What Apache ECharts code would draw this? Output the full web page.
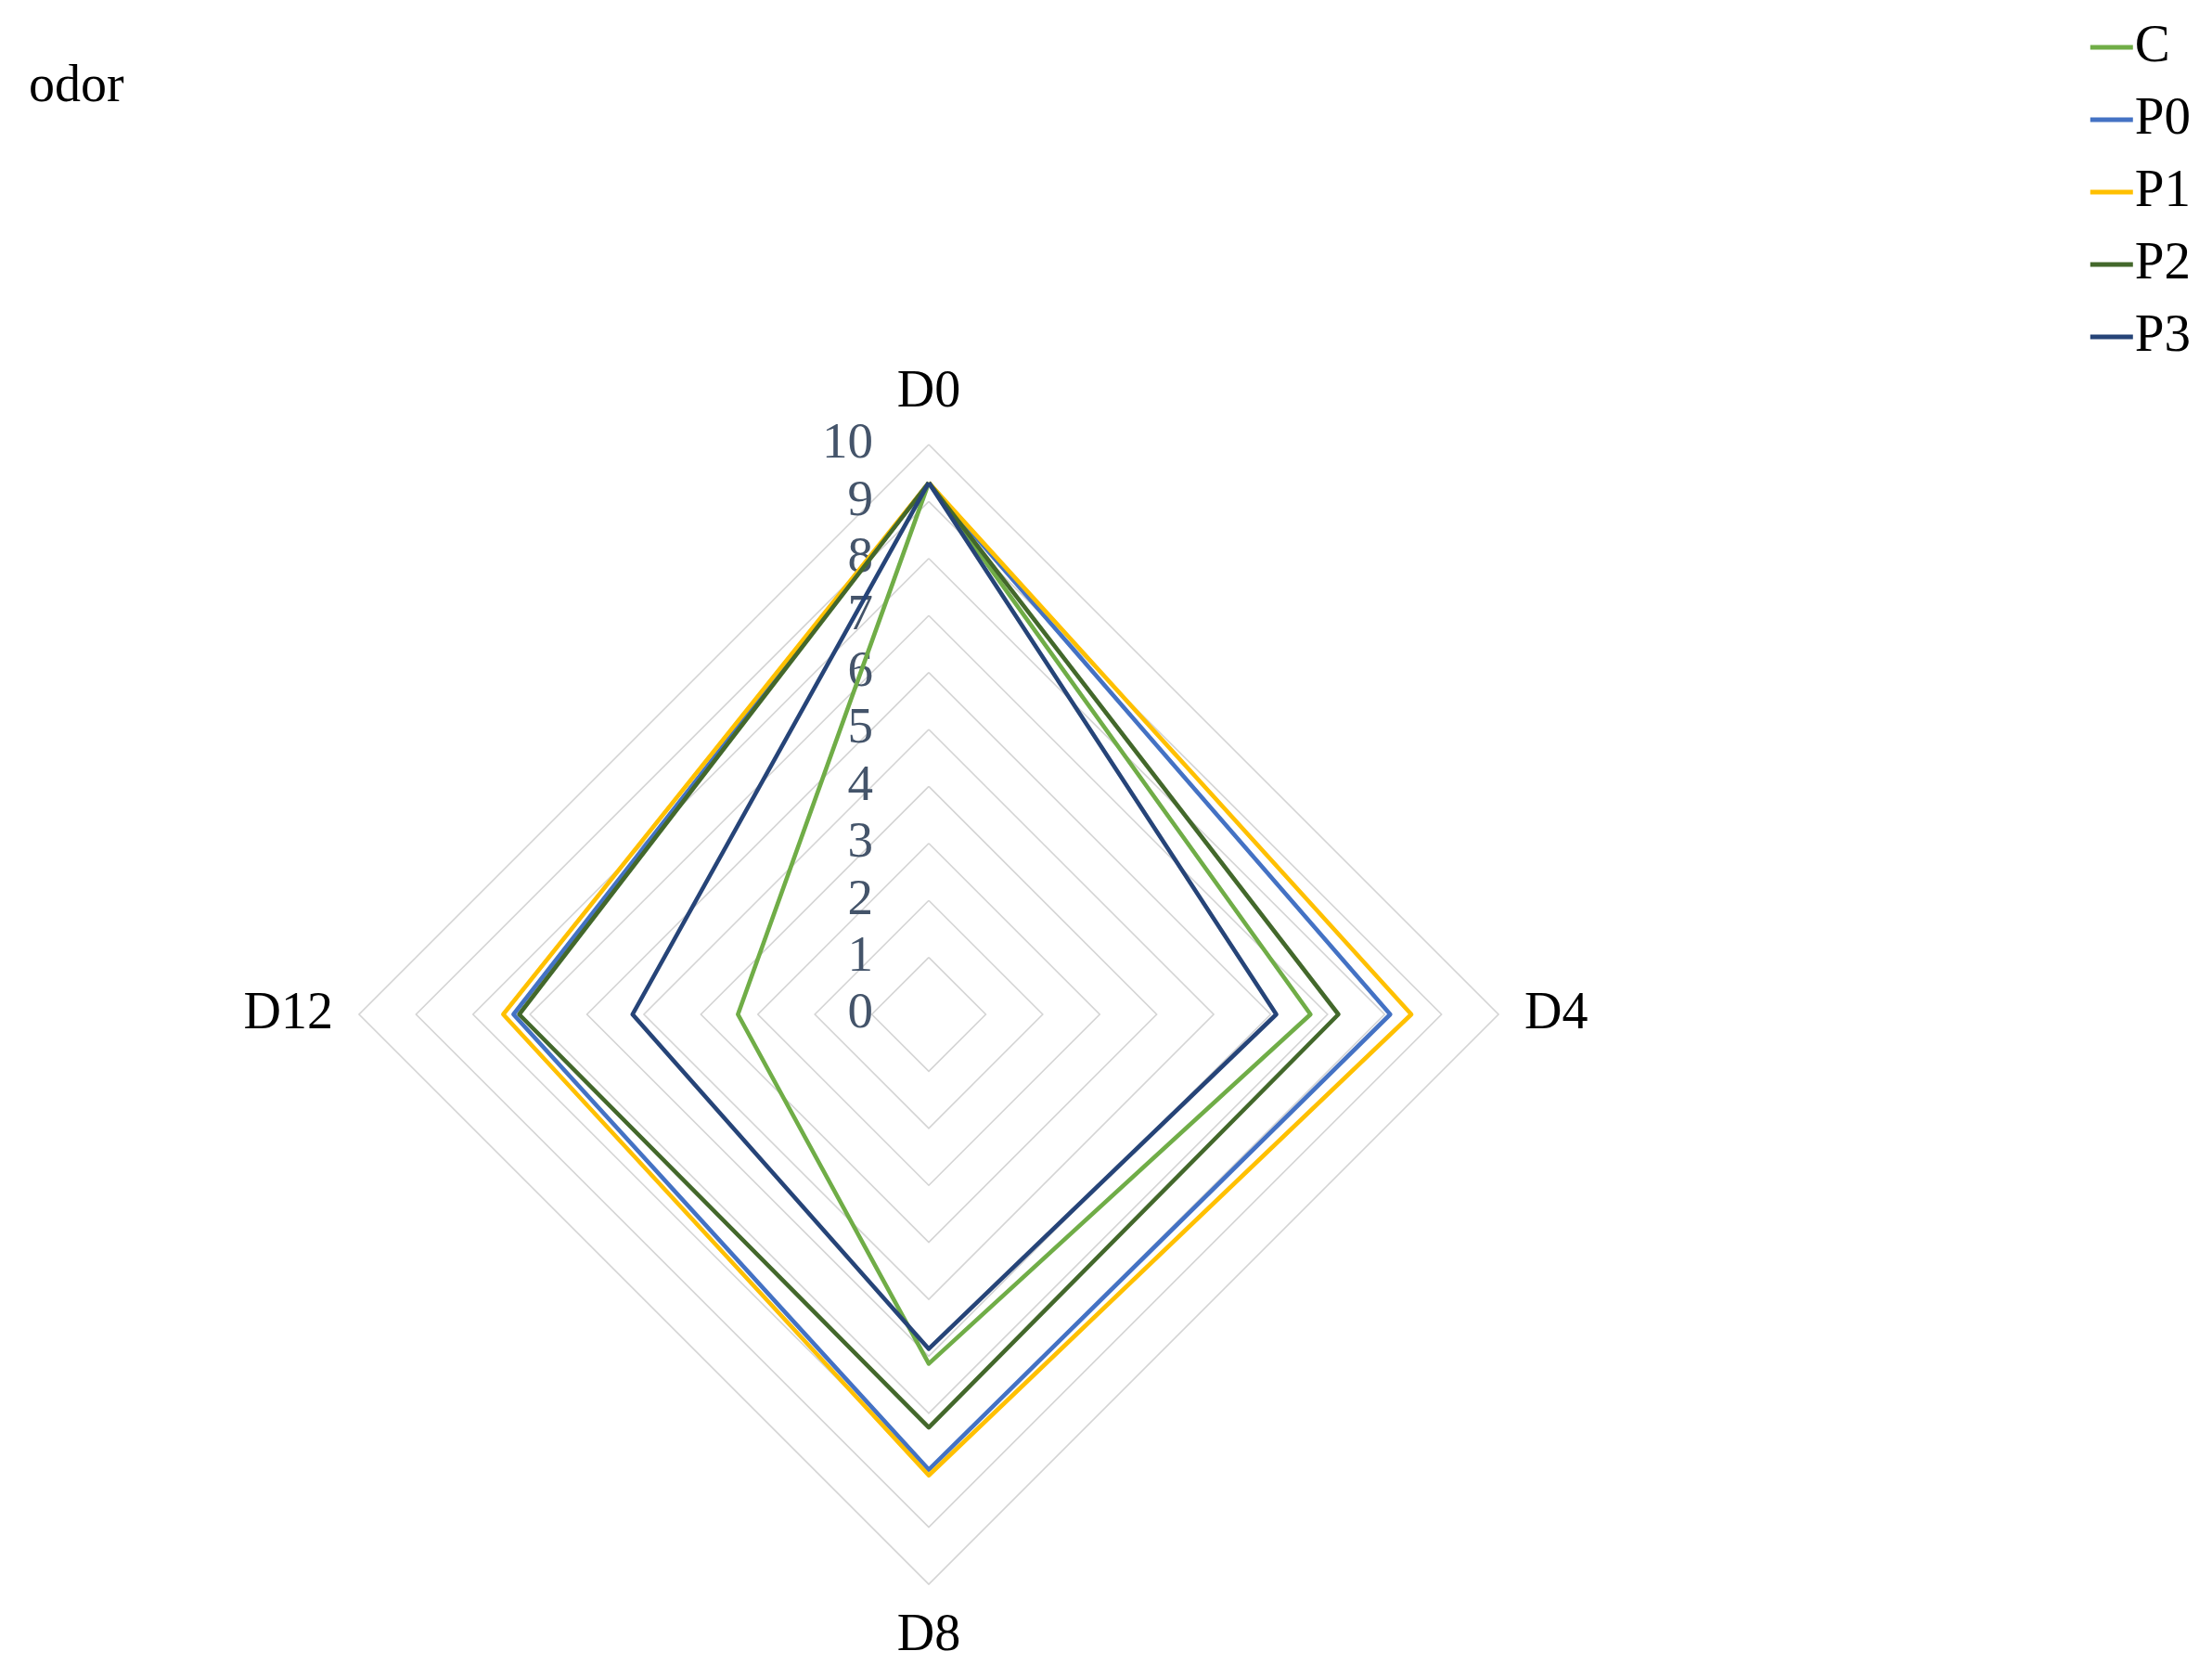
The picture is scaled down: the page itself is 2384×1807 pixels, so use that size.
<!DOCTYPE html>
<html><head><meta charset="utf-8">
<script src="https://cdn.jsdelivr.net/npm/echarts@6/dist/echarts.min.js"></script>
<style>html,body{margin:0;padding:0;background:#fff}#c{width:2384px;height:1807px}</style>
</head><body><div id="c"></div>
<script>
const titleText = 'odor';
const categories = ['D0', 'D4', 'D8', 'D12'];
const tickMax = 10;
const seriesNames = ['C', 'P0', 'P1', 'P2', 'P3'];
const C  = [9.33, 6.70, 6.13, 3.35];
const P0 = [9.33, 8.10, 7.99, 7.29];
const P1 = [9.33, 8.47, 8.09, 7.47];
const P2 = [9.33, 7.19, 7.25, 7.19];
const P3 = [9.33, 6.10, 5.87, 5.20];
const colors = ['#70AD47', '#4472C4', '#FFC000', '#43682B', '#264478'];

const seriesValues = [C, P0, P1, P2, P3];
// ECharts places radar indicators counter-clockwise; reorder so D0 top, D4 right, D8 bottom, D12 left
const order = [0, 3, 2, 1];
const font = '"Liberation Serif", "Times New Roman", serif';

const indicator = order.map((i, k) => ({
  name: categories[i], max: tickMax, min: 0,
  axisLabel: { show: k === 0 }
}));

const chart = echarts.init(document.getElementById('c'));
chart.setOption({
  animation: false,
  backgroundColor: '#fff',
  title: {
    text: titleText, left: 26, top: 61,
    textStyle: { fontFamily: font, fontSize: 56, fontWeight: 'normal', color: '#000' }
  },
  legend: {
    orient: 'vertical', right: 18, top: 14,
    icon: 'rect', itemWidth: 46, itemHeight: 5, itemGap: 14,
    data: seriesNames,
    textStyle: { fontFamily: font, fontSize: 57, color: '#000', lineHeight: 64, padding: [0, 0, 0, -3] }
  },
  radar: {
    center: [1001, 1093], radius: 614, startAngle: 90,
    shape: 'polygon', splitNumber: 10,
    indicator: indicator,
    axisName: { fontFamily: font, fontSize: 56, color: '#000' },
    nameGap: 28,
    axisLine: { show: false },
    axisTick: { show: false },
    splitArea: { show: false },
    splitLine: { lineStyle: { color: '#D4D4D4', width: 1.6 } },
    axisLabel: { show: false, fontFamily: font, fontSize: 55, color: '#44546A', margin: 60 }
  },
  series: [{
    type: 'radar',
    symbol: 'none',
    emphasis: { disabled: true },
    data: seriesValues.map((vals, s) => ({
      name: seriesNames[s],
      value: order.map(i => vals[i]),
      lineStyle: { color: colors[s], width: 4.6 },
      itemStyle: { color: colors[s] },
      symbol: 'none'
    }))
  }]
});
</script></body></html>
